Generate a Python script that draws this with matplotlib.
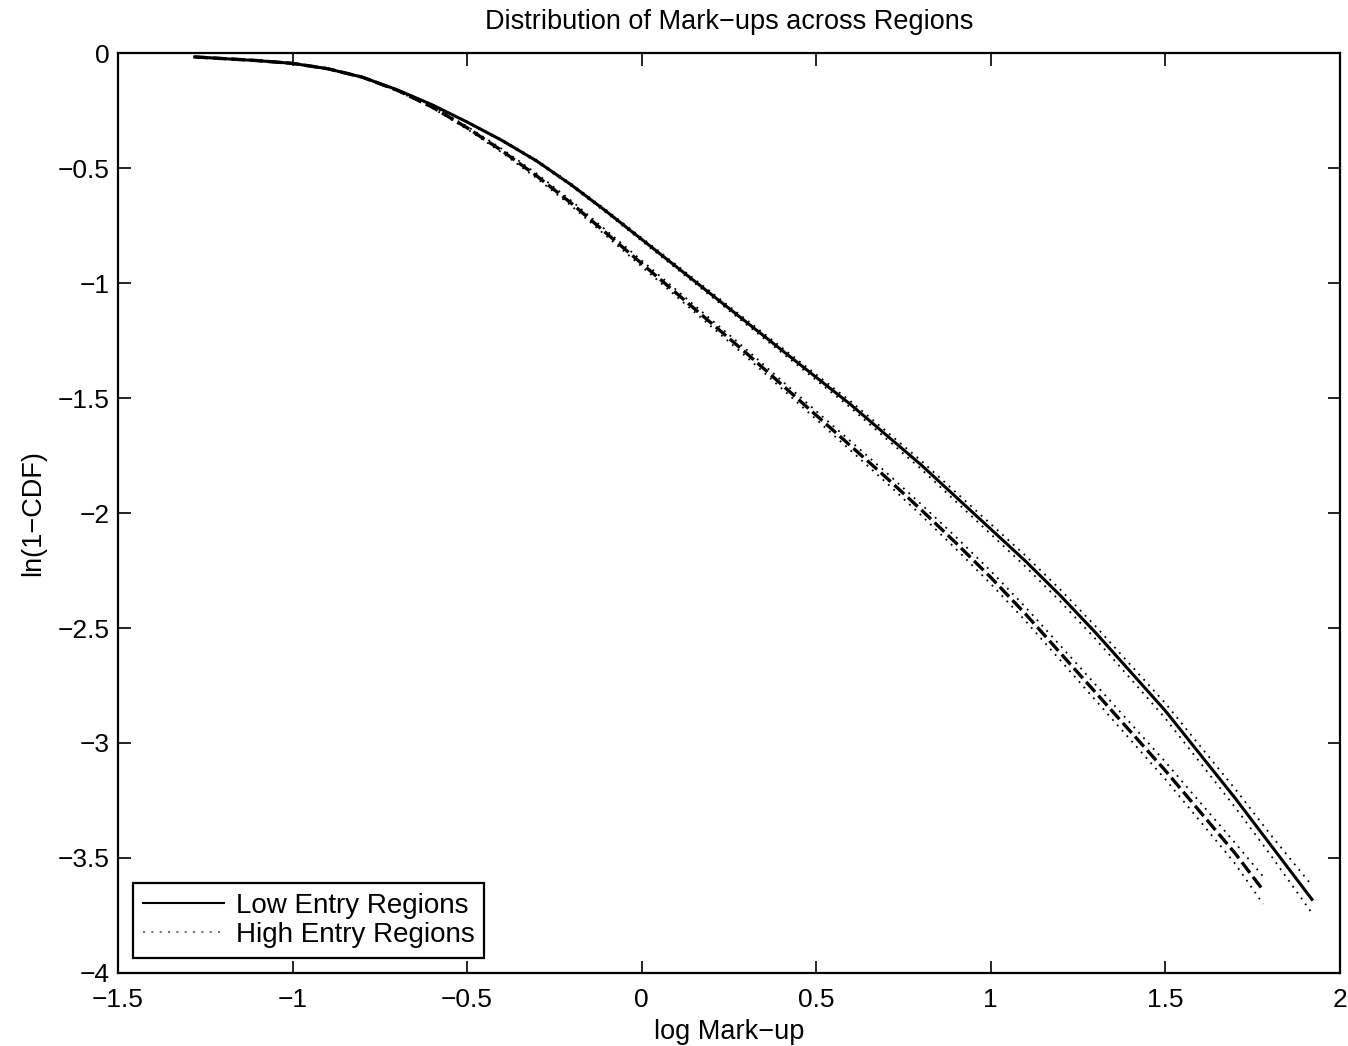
import numpy as np
import matplotlib
matplotlib.use("Agg")
import matplotlib.pyplot as plt

# ---- data ----
low_x = [-1.28, -1.2, -1.1, -1.0, -0.9, -0.8, -0.7, -0.6, -0.5, -0.4, -0.3, -0.2, -0.1,
         0.0, 0.1, 0.2, 0.3, 0.4, 0.5, 0.6, 0.7, 0.8, 0.9, 1.0, 1.1, 1.2, 1.3,
         1.4, 1.5, 1.6, 1.7, 1.8, 1.92]
low_y = [-0.017, -0.024, -0.033, -0.045, -0.068, -0.105, -0.16, -0.225, -0.30, -0.38,
         -0.47, -0.575, -0.69, -0.81, -0.93, -1.05, -1.17, -1.29, -1.41, -1.53,
         -1.66, -1.79, -1.93, -2.07, -2.21, -2.36, -2.52, -2.69, -2.86, -3.05,
         -3.24, -3.44, -3.68]
low_band = [0.0, 0.0, 0.0, 0.0, 0.0, 0.0, 0.0, 0.0, 0.002, 0.003, 0.004, 0.005, 0.006,
            0.007, 0.008, 0.009, 0.010, 0.011, 0.012, 0.014, 0.016, 0.018, 0.020,
            0.022, 0.024, 0.026, 0.028, 0.030, 0.033, 0.036, 0.040, 0.044, 0.06]

high_x = [-1.28, -1.2, -1.1, -1.0, -0.9, -0.8, -0.7, -0.6, -0.5, -0.4, -0.3, -0.2, -0.1,
          0.0, 0.1, 0.2, 0.3, 0.4, 0.5, 0.6, 0.7, 0.8, 0.9, 1.0, 1.1, 1.2, 1.3,
          1.4, 1.5, 1.6, 1.7, 1.78]
high_y = [-0.017, -0.024, -0.033, -0.045, -0.068, -0.105, -0.162, -0.235, -0.325, -0.425,
          -0.535, -0.655, -0.785, -0.915, -1.045, -1.175, -1.305, -1.44, -1.575, -1.71,
          -1.845, -1.985, -2.13, -2.28, -2.44, -2.61, -2.78, -2.95, -3.12, -3.30,
          -3.48, -3.64]
high_band = [0.0, 0.0, 0.0, 0.0, 0.0, 0.0, 0.002, 0.004, 0.006, 0.008, 0.010, 0.011,
             0.012, 0.013, 0.014, 0.015, 0.016, 0.017, 0.018, 0.020, 0.022, 0.024,
             0.026, 0.028, 0.030, 0.032, 0.034, 0.036, 0.038, 0.041, 0.045, 0.06]

x_ticks = [-1.5, -1, -0.5, 0, 0.5, 1, 1.5, 2]
x_ticklabels = ["\u22121.5", "\u22121", "\u22120.5", "0", "0.5", "1", "1.5", "2"]
y_ticks = [-4, -3.5, -3, -2.5, -2, -1.5, -1, -0.5, 0]
y_ticklabels = ["\u22124", "\u22123.5", "\u22123", "\u22122.5", "\u22122", "\u22121.5",
                "\u22121", "\u22120.5", "0"]

title = "Distribution of Mark\u2212ups across Regions"
xlabel = "log Mark\u2212up"
ylabel = "ln(1\u2212CDF)"
legend_labels = ["Low Entry Regions", "High Entry Regions"]

# ---- plot ----
plt.rcParams['font.family'] = ['Liberation Sans', 'DejaVu Sans']
fig = plt.figure(figsize=(13.48, 10.46), dpi=100)
ax = fig.add_axes([0.0875, 0.0698, 0.9065, 0.8795])

lx = np.array(low_x); ly = np.array(low_y); lb = np.array(low_band)
hx = np.array(high_x); hy = np.array(high_y); hb = np.array(high_band)

# confidence bands (dotted)
ax.plot(lx, ly + lb, color='black', lw=1.3, ls=(0, (1, 3)))
ax.plot(lx, ly - lb, color='black', lw=1.3, ls=(0, (1, 3)))
ax.plot(hx, hy + hb, color='black', lw=1.3, ls=(0, (1, 3)))
ax.plot(hx, hy - hb, color='black', lw=1.3, ls=(0, (1, 3)))

# central lines
ax.plot(hx, hy, color='black', lw=2.4, ls=(0, (4, 1.5)))
ax.plot(lx, ly, color='black', lw=2.2, ls='-')

# legend proxies
h1, = ax.plot([], [], color='black', lw=1.5, ls='-')
h2, = ax.plot([], [], color='#777777', lw=1.5, ls=(0, (1, 3)))
leg = ax.legend([h1, h2], legend_labels, loc='lower left', fontsize=20,
                frameon=True, fancybox=False, framealpha=1, edgecolor='black',
                handlelength=2.9, handletextpad=0.45, borderpad=0.35,
                labelspacing=0.12, borderaxespad=0.55)
leg.get_frame().set_linewidth(1.6)

ax.set_xlim(-1.5, 2)
ax.set_ylim(-4, 0)
ax.set_xticks(x_ticks)
ax.set_xticklabels(x_ticklabels)
ax.set_yticks(y_ticks)
ax.set_yticklabels(y_ticklabels)
ax.tick_params(direction='in', length=9, width=1.2, labelsize=19,
               top=True, right=True)
ax.tick_params(axis='x', pad=11)
ax.tick_params(axis='y', pad=6)
for s in ax.spines.values():
    s.set_linewidth(1.6)

ax.set_title(title, fontsize=19.5, pad=17)
ax.set_xlabel(xlabel, fontsize=19.5, labelpad=5)
ax.set_ylabel(ylabel, fontsize=19.5, labelpad=8)

fig.savefig("out.png", dpi=100)
